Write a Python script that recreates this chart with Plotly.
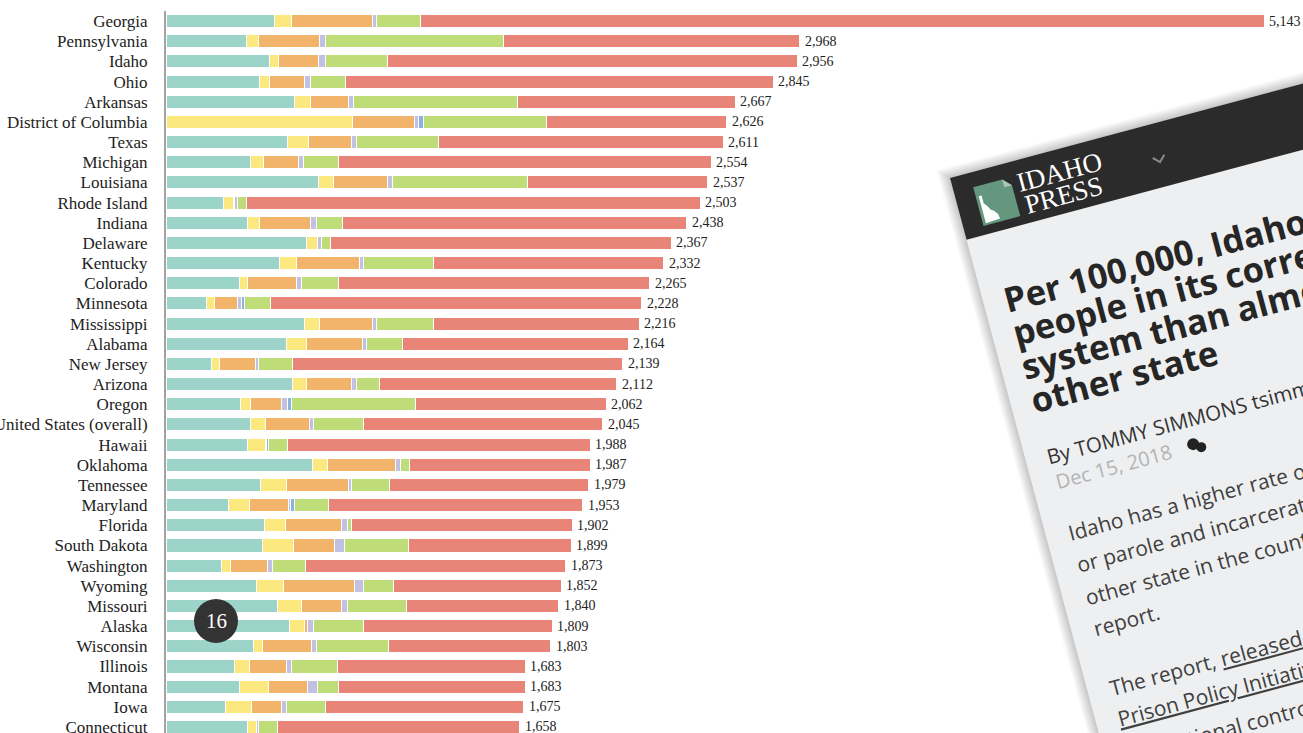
import math
import plotly.graph_objects as go

# ---------------- data ----------------
states = ["Georgia", "Pennsylvania", "Idaho", "Ohio", "Arkansas", "District of Columbia", "Texas",
          "Michigan", "Louisiana", "Rhode Island", "Indiana", "Delaware", "Kentucky", "Colorado",
          "Minnesota", "Mississippi", "Alabama", "New Jersey", "Arizona", "Oregon",
          "United States (overall)", "Hawaii", "Oklahoma", "Tennessee", "Maryland", "Florida",
          "South Dakota", "Washington", "Wyoming", "Missouri", "Alaska", "Wisconsin", "Illinois",
          "Montana", "Iowa", "Connecticut"]

state_prisons = [509, 375, 484, 437, 601, 0, 569, 395, 714, 268, 383, 659, 532, 346, 191, 647, 564, 211,
                 594, 351, 395, 380, 684, 442, 294, 462, 452, 258, 422, 520, 579, 412, 320, 346, 279, 380]
federal_prisons = [80, 57, 45, 49, 75, 872, 100, 60, 70, 50, 55, 50, 80, 38, 38, 74, 92, 40,
                   65, 45, 69, 84, 72, 122, 97, 97, 144, 42, 130, 114, 69, 38, 72, 132, 122, 45]
local_jails = [380, 288, 186, 162, 177, 293, 199, 167, 254, 4, 241, 0, 294, 228, 105, 248, 264, 167,
               211, 146, 209, 0, 318, 293, 184, 264, 192, 176, 330, 189, 15, 231, 174, 184, 139, 0]
youth = [17, 27, 33, 27, 23, 17, 22, 20, 22, 14, 25, 17, 17, 23, 18, 17, 20, 15,
         23, 28, 20, 8, 23, 12, 10, 28, 50, 25, 45, 28, 30, 22, 23, 47, 23, 10]
commitment = [0, 0, 0, 0, 0, 23, 0, 0, 0, 0, 0, 0, 0, 0, 18, 0, 0, 0,
              0, 18, 0, 7, 0, 0, 17, 0, 0, 0, 0, 0, 0, 0, 0, 0, 0, 0]
parole = [206, 833, 291, 164, 770, 576, 388, 167, 632, 40, 122, 43, 330, 174, 120, 268, 166, 159,
          109, 581, 231, 90, 43, 176, 161, 20, 298, 154, 137, 276, 234, 341, 214, 100, 186, 87]
probation = [3951, 1388, 1917, 2006, 1021, 845, 1333, 1745, 845, 2127, 1612, 1598, 1079, 1456, 1738, 962,
             1058, 1547, 1110, 893, 1121, 1419, 847, 934, 1190, 1031, 763, 1218, 788, 713, 882, 759,
             880, 874, 926, 1136]
totals = [5143, 2968, 2956, 2845, 2667, 2626, 2611, 2554, 2537, 2503, 2438, 2367, 2332, 2265, 2228, 2216,
          2164, 2139, 2112, 2062, 2045, 1988, 1987, 1979, 1953, 1902, 1899, 1873, 1852, 1840, 1809, 1803,
          1683, 1683, 1675, 1658]

series_names = ["State prisons", "Federal prisons", "Local jails", "Youth confinement",
                "Involuntary commitment", "Parole", "Probation"]
series_colors = ["#9dd4c9", "#fbe97f", "#f2b46b", "#c3c1e2", "#8ab3dd", "#bedd78", "#e98578"]

headline_lines = ["Per 100,000, Idaho has more", "people in its correctional",
                  "system than almost any", "other state"]
body_lines = ["Idaho has a higher rate of people on probation",
              "or parole and incarcerated than almost any",
              "other state in the country, according to a new",
              "report.",
              'The report, <span style="text-decoration:underline">released Tuesday by the</span>',
              '<span style="text-decoration:underline">Prison Policy Initiative</span>, looks at',
              "correctional control rates"]

# ---------------- figure ----------------
W_FIG, H_FIG = 1303, 733
ML, MT = 166, 11
PW, PH = W_FIG - ML, H_FIG - MT
PX_PER_UNIT = 1098 / 5143.0
XMAX = PW / PX_PER_UNIT

fig = go.Figure()
series_vals = [state_prisons, federal_prisons, local_jails, youth, commitment, parole, probation]
for name, col, vals in zip(series_names, series_colors, series_vals):
    fig.add_trace(go.Bar(y=states, x=vals, name=name, orientation="h",
                         marker=dict(color=col, line=dict(color="white", width=1)),
                         hoverinfo="x+name"))

annotations = []
for st, tot in zip(states, totals):
    annotations.append(dict(x=tot, y=st, xref="x", yref="y", text=f"{tot:,}", showarrow=False,
                            xanchor="left", xshift=3,
                            font=dict(family="Liberation Serif", size=14, color="#222")))


def to_paper(x, y):
    return (x - ML) / PW, (H_FIG - y) / PH


TH = math.radians(15)
CO, SI = math.cos(TH), math.sin(TH)
O = (950.0, 178.0)


def loc(s, t):
    return O[0] + s * CO + t * SI, O[1] - s * SI + t * CO


def path_from(pts):
    parts = []
    for i, (x, y) in enumerate(pts):
        px, py = to_paper(x, y)
        parts.append(("M " if i == 0 else "L ") + f"{px:.5f},{py:.5f}")
    return " ".join(parts) + " Z"


shapes = []


def poly_local(pts, fill, opacity=1.0):
    shapes.append(dict(type="path", xref="paper", yref="paper", layer="above",
                       path=path_from([loc(a, b) for a, b in pts]),
                       fillcolor=fill, opacity=opacity, line=dict(width=0)))


def rot_text(text, s, t, size, color, family, asc, desc, weight=400):
    px, py = loc(s, t)
    d = desc * size + 2
    blx = px + SI * d - 2 * CO
    bly = py + CO * d + 2 * SI
    H = (asc + desc) * size + 4
    xl = blx - H * SI
    xp, yp = to_paper(xl, bly)
    annotations.append(dict(x=xp, y=yp, xref="paper", yref="paper", text=text, showarrow=False,
                            xanchor="left", yanchor="bottom", textangle=-15, align="left",
                            font=dict(family=family, size=size, color=color, weight=weight)))


# shadow
for k in range(1, 12):
    poly_local([(-k, -k), (1200, -k), (1200, 1200), (-k, 1200)], "black", 0.02)
# page
poly_local([(0, 0), (1200, 0), (1200, 1200), (0, 1200)], "#eeeff0")
# header
poly_local([(0, 0), (1200, 0), (1200, 64), (0, 64)], "#2b2b2b")
# logo
poly_local([(20, 15), (50, 15), (58, 23), (58, 55), (20, 55)], "#65977f")
poly_local([(50, 15), (50, 23), (58, 23)], "#a9c6b8")
poly_local([(23, 25), (26, 25), (26, 33), (29, 37), (31, 41), (34, 43), (37, 47), (38, 52), (23, 53)], "white")
# chevron
cx = [loc(201, 33), loc(207, 39), loc(213, 33)]
pth = " ".join(("M " if i == 0 else "L ") + "%.5f,%.5f" % to_paper(*p) for i, p in enumerate(cx))
shapes.append(dict(type="path", xref="paper", yref="paper", layer="above", path=pth,
                   line=dict(color="#8a8a8a", width=2)))

OS_A, OS_D = 1.069, 0.293
LS_A, LS_D = 0.891, 0.216
rot_text("IDAHO", 64, 32, 27, "white", "Liberation Serif", LS_A, LS_D)
rot_text("PRESS", 66, 55, 27, "white", "Liberation Serif", LS_A, LS_D)

for i, line in enumerate(headline_lines):
    rot_text(line, 21, 145 + 34.8 * i, 34.5, "#262626", "Open Sans", OS_A, OS_D, 700)

rot_text("By TOMMY SIMMONS tsimmons@idahopress.com", 22, 302, 20.5, "#333", "Open Sans", OS_A, OS_D)
rot_text("Dec 15, 2018", 24, 329, 20, "#b3b3b3", "Open Sans", OS_A, OS_D)

# comment icon
for (a, b, r) in [(166, 320, 6), (173, 325, 5)]:
    x, y = loc(a, b)
    x0, y0 = to_paper(x - r, y + r)
    x1, y1 = to_paper(x + r, y - r)
    shapes.append(dict(type="circle", xref="paper", yref="paper", layer="above",
                       x0=x0, y0=y0, x1=x1, y1=y1, fillcolor="#222", line=dict(width=0)))

body_t = [382, 415, 448, 481, 542, 574, 611]
for line, tb in zip(body_lines, body_t):
    rot_text(line, 23, tb, 21, "#404040", "Open Sans", OS_A, OS_D)

# "16" badge
bx, by, br = 216, 621, 22
x0, y0 = to_paper(bx - br, by + br)
x1, y1 = to_paper(bx + br, by - br)
shapes.append(dict(type="circle", xref="paper", yref="paper", layer="above",
                   x0=x0, y0=y0, x1=x1, y1=y1, fillcolor="#333333", line=dict(width=0)))
bpx, bpy = to_paper(bx, by)
annotations.append(dict(x=bpx, y=bpy, xref="paper", yref="paper", text="16", showarrow=False,
                        xanchor="center", yanchor="middle",
                        font=dict(family="Liberation Serif", size=21, color="white")))

fig.update_layout(
    width=W_FIG, height=H_FIG,
    margin=dict(l=ML, r=0, t=MT, b=0, pad=0),
    barmode="stack", bargap=0.35,
    showlegend=False,
    paper_bgcolor="white", plot_bgcolor="white",
    xaxis=dict(range=[0, XMAX], visible=False, fixedrange=True),
    yaxis=dict(type="category", categoryorder="array", categoryarray=states,
               range=[35.3, -0.5], automargin=False, showgrid=False, zeroline=False,
               showline=True, linecolor="#a3a3a3", linewidth=2,
               ticks="outside", ticklen=13, tickcolor="rgba(0,0,0,0)",
               tickfont=dict(family="Liberation Serif", size=17, color="#222")),
    shapes=shapes,
    annotations=annotations,
)

fig.write_html("out.html", config={"displayModeBar": False},
               post_script="document.body.style.margin='0px';")
